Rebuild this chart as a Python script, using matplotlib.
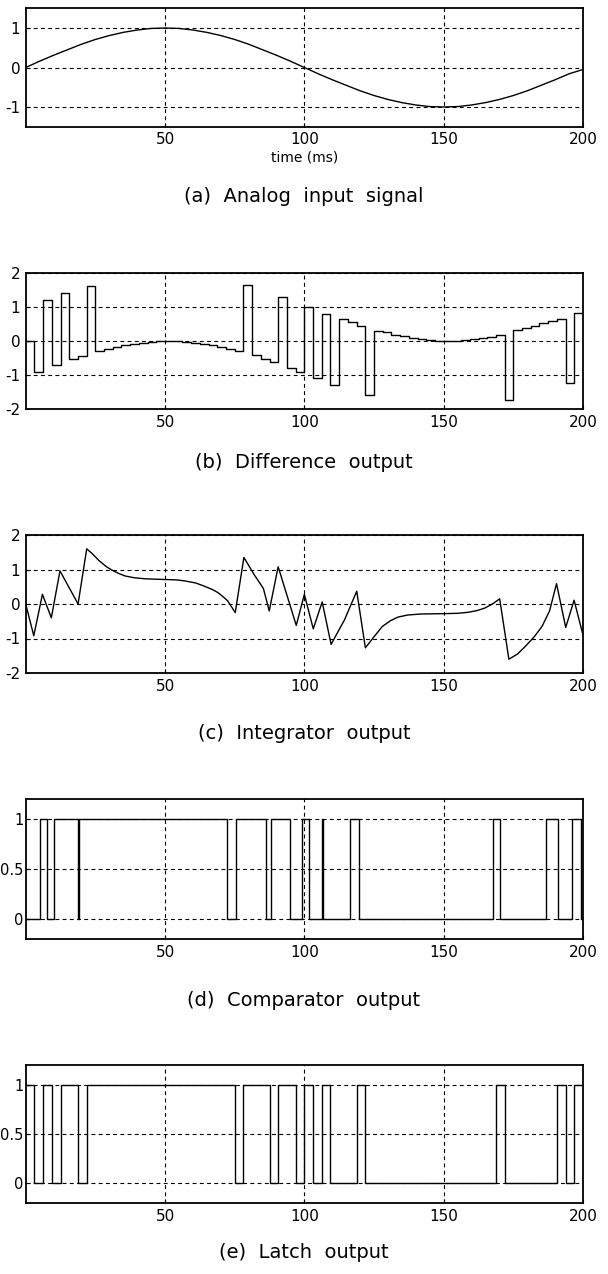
import numpy as np
import matplotlib
matplotlib.use("Agg")
import matplotlib.pyplot as plt

plt.rcParams['font.family'] = ['DejaVu Sans']
plt.rcParams['axes.unicode_minus'] = False

# (a) analog input, read every 5 ms
t_in = [0, 5, 10, 15, 20, 25, 30, 35, 40, 45, 50, 55, 60, 65, 70, 75, 80, 85, 90, 95,
        100, 105, 110, 115, 120, 125, 130, 135, 140, 145, 150, 155, 160, 165, 170, 175,
        180, 185, 190, 195, 200]
v_in = [0.0, 0.16, 0.31, 0.45, 0.59, 0.71, 0.81, 0.89, 0.95, 0.99, 1.0, 0.99, 0.95, 0.89,
        0.81, 0.71, 0.59, 0.45, 0.31, 0.16, 0.0, -0.16, -0.31, -0.45, -0.59, -0.71, -0.81,
        -0.89, -0.95, -0.99, -1.0, -0.99, -0.95, -0.89, -0.81, -0.71, -0.59, -0.45, -0.31,
        -0.16, -0.05]

# sampling period (ms), 64 samples over 200 ms
T_S = 3.125

# (b) difference output, one value per sample
diff = [0.0, -0.92, 1.2, -0.7, 1.4, -0.53, -0.43, 1.63, -0.29, -0.24, -0.18, -0.13,
        -0.09, -0.05, -0.02, 0.0, 0.0, 0.0, -0.02, -0.05, -0.09, -0.13, -0.18, -0.24,
        -0.29, 1.65, -0.41, -0.53, -0.62, 1.3, -0.8, -0.9, 1.0, -1.1, 0.8, -1.28,
        0.65, 0.55, 0.45, -1.6, 0.3, 0.25, 0.19, 0.14, 0.09, 0.05, 0.02, 0.0,
        0.0, 0.0, 0.02, 0.05, 0.08, 0.13, 0.18, -1.75, 0.33, 0.38, 0.45, 0.52,
        0.6, 0.66, -1.25, 0.82]

# (c) integrator output
t_int = [0, 2.9, 6.0, 9.2, 12.3, 18.8, 21.9, 24, 26.4, 29, 31, 33.5, 35.8, 39, 42.9, 50,
         54, 57, 61, 64, 67, 69, 71, 72.5, 75.2, 78.3, 82, 85.3, 87.4, 90.6, 97.1, 100,
         103.2, 106.4, 109.6, 114.4, 118.8, 121.9, 125, 128, 131, 133.6, 137, 141.8, 150,
         155, 158.8, 162, 164.7, 167.5, 170.1, 173.4, 176.5, 179.4, 182.5, 185.3, 188,
         190.5, 193.8, 196.8, 200]
v_int = [0, -0.92, 0.28, -0.4, 0.96, 0.0, 1.6, 1.45, 1.25, 1.08, 0.98, 0.88, 0.81, 0.76,
         0.73, 0.71, 0.7, 0.67, 0.61, 0.52, 0.42, 0.33, 0.2, 0.09, -0.25, 1.35, 0.85, 0.45,
         -0.2, 1.08, -0.62, 0.28, -0.72, 0.06, -1.17, -0.46, 0.37, -1.27, -0.95, -0.65,
         -0.48, -0.38, -0.32, -0.29, -0.28, -0.27, -0.24, -0.19, -0.12, 0.0, 0.15, -1.6,
         -1.45, -1.22, -0.95, -0.65, -0.2, 0.59, -0.68, 0.11, -0.9]

# (d) comparator output, switching times and levels
comp_t = [0, 5.3, 7.6, 10.3, 18.6, 19.3, 72.4, 75.6, 86.4, 88.2, 94.8, 99.0, 101.5,
          106.3, 106.6, 116.5, 119.6, 167.7, 170.1, 186.8, 190.9, 196.2, 199.2, 200]
comp_v = [0, 1, 0, 1, 0, 1, 0, 1, 0, 1, 0, 1, 0, 1, 0, 1, 0, 1, 0, 1, 0, 1, 0, 0]

# (e) latch output, one value per sample
latch = [1, 0, 1, 0, 1, 1, 0, 1, 1, 1, 1, 1, 1, 1, 1, 1, 1, 1, 1, 1, 1, 1, 1, 1,
         0, 1, 1, 1, 0, 1, 1, 0, 1, 0, 1, 0, 0, 0, 1, 0, 0, 0, 0, 0, 0, 0, 0, 0,
         0, 0, 0, 0, 0, 0, 1, 0, 0, 0, 0, 0, 0, 1, 0, 1]

captions = ['(a)  Analog  input  signal', '(b)  Difference  output',
            '(c)  Integrator  output', '(d)  Comparator  output', '(e)  Latch  output']

W, H = 608, 1274
fig = plt.figure(figsize=(W / 100, H / 100), dpi=100)

left_px, right_px = 25.7, 583
# (top, bottom) of each panel and caption centre, in pixels from the top
panels = [(8.3, 126.7), (273, 409), (535, 673), (799, 939), (1065, 1203)]
cap_y = [197, 463, 733, 1000, 1252]
ylims = [(-1.5, 1.5), (-2, 2), (-2, 2), (-0.2, 1.2), (-0.2, 1.2)]
yticks = [[-1, 0, 1], [-2, -1, 0, 1, 2], [-2, -1, 0, 1, 2], [0, 0.5, 1], [0, 0.5, 1]]
ylabels = [['-1', '0', '1'], ['-2', '-1', '0', '1', '2'], ['-2', '-1', '0', '1', '2'],
           ['0', '0.5', '1'], ['0', '0.5', '1']]

t_s = np.arange(len(diff) + 1) * T_S

axes = []
for i, (top, bot) in enumerate(panels):
    ax = fig.add_axes([left_px / W, 1 - bot / H, (right_px - left_px) / W, (bot - top) / H])
    ax.set_xlim(0, 200)
    ax.set_ylim(*ylims[i])
    ax.set_xticks([50, 100, 150, 200])
    ax.set_yticks(yticks[i])
    ax.set_yticklabels(ylabels[i])
    ax.tick_params(direction='in', length=3, width=0.8, labelsize=11, pad=4, colors='black')
    if i >= 3:
        # the 0.5 labels are wide, keep them inside the figure
        ax.tick_params(axis='y', labelsize=10.5, pad=1.5)
    ax.grid(True, color='black', linestyle=(0, (3.5, 3)), linewidth=0.8)
    for s in ax.spines.values():
        s.set_linewidth(1.3)
        s.set_color('black')
    fig.text(0.5, 1 - cap_y[i] / H, captions[i], ha='center', va='center', fontsize=14)
    axes.append(ax)

# (a)
axes[0].plot(t_in, v_in, color='black', lw=1.0)
axes[0].set_xlabel('time (ms)', fontsize=10, labelpad=2)

# (b)
axes[1].step(t_s, diff + [diff[-1]], where='post', color='black', lw=1.0)

# (c)
axes[2].plot(t_int, v_int, color='black', lw=1.0)

# (d)
axes[3].step(comp_t, comp_v, where='post', color='black', lw=1.0)

# (e)
axes[4].step(t_s, latch + [latch[-1]], where='post', color='black', lw=1.0)

fig.savefig('out.png', dpi=100)
